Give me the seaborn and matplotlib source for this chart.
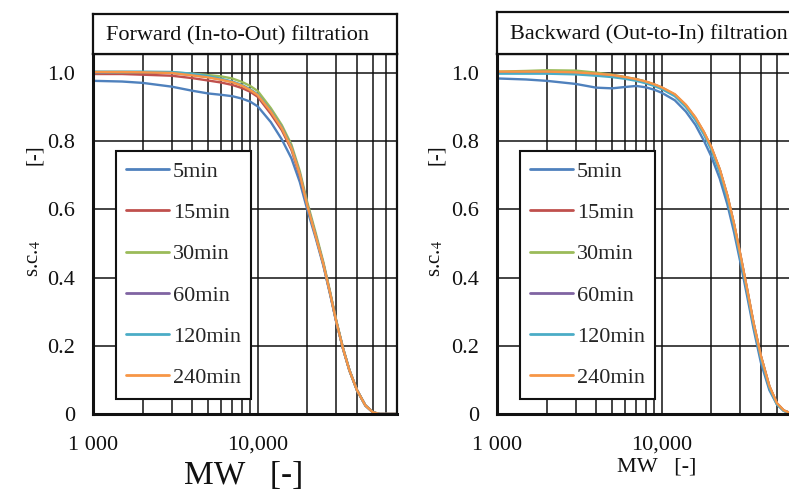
import matplotlib
matplotlib.use("Agg")
import numpy as np
import pandas as pd
import seaborn as sns
import matplotlib.pyplot as plt
from matplotlib.ticker import FixedLocator, NullFormatter

# ---------------- data ----------------
times = ["5min", "15min", "30min", "60min", "120min", "240min"]
colors = ["#4F81BD", "#C0504D", "#9BBB59", "#8064A2", "#4BACC6", "#F79646"]

mw = [1000, 1500, 2000, 3000, 4000, 5000, 6000, 7000, 8000, 9000, 10000,
      12000, 14000, 16000, 18000, 20000, 22500, 25000, 27500, 30000,
      33000, 36000, 40000, 45000, 50000, 55000, 60000, 70000]

# Forward (In-to-Out)
fwd_5 = [0.977, 0.975, 0.971, 0.960, 0.948, 0.940, 0.936, 0.932, 0.925, 0.916, 0.902,
         0.856, 0.805, 0.750, 0.680, 0.598, 0.515, 0.435, 0.350, 0.268,
         0.190, 0.128, 0.070, 0.025, 0.005, 0.0, 0.0, 0.0]
fwd_15 = [0.997, 0.997, 0.995, 0.992, 0.985, 0.978, 0.972, 0.965, 0.956, 0.945, 0.930,
          0.880, 0.832, 0.775, 0.698, 0.610, 0.522, 0.440, 0.354, 0.270,
          0.190, 0.128, 0.070, 0.025, 0.005, 0.0, 0.0, 0.0]
fwd_30 = [1.000, 1.001, 1.002, 1.002, 0.998, 0.994, 0.990, 0.984, 0.974, 0.962, 0.947,
          0.897, 0.847, 0.790, 0.712, 0.620, 0.530, 0.446, 0.358, 0.273,
          0.192, 0.129, 0.070, 0.025, 0.005, 0.0, 0.0, 0.0]
fwd_60 = [1.001, 1.002, 1.002, 1.000, 0.994, 0.988, 0.981, 0.974, 0.964, 0.951, 0.936,
          0.888, 0.840, 0.782, 0.704, 0.612, 0.522, 0.440, 0.354, 0.270,
          0.190, 0.128, 0.070, 0.025, 0.005, 0.0, 0.0, 0.0]
fwd_120 = [1.004, 1.004, 1.004, 1.003, 0.998, 0.991, 0.983, 0.975, 0.965, 0.952, 0.937,
           0.889, 0.840, 0.782, 0.704, 0.612, 0.522, 0.440, 0.354, 0.270,
           0.190, 0.128, 0.070, 0.025, 0.005, 0.0, 0.0, 0.0]
fwd_240 = [1.003, 1.003, 1.002, 1.000, 0.993, 0.987, 0.980, 0.973, 0.963, 0.950, 0.935,
           0.887, 0.838, 0.780, 0.703, 0.611, 0.521, 0.440, 0.354, 0.270,
           0.190, 0.128, 0.070, 0.025, 0.005, 0.0, 0.0, 0.0]

# Backward (Out-to-In)
bwd_5 = [0.984, 0.981, 0.977, 0.968, 0.957, 0.955, 0.959, 0.962, 0.958, 0.951, 0.942,
         0.920, 0.887, 0.848, 0.802, 0.755, 0.690, 0.615, 0.532, 0.445,
         0.345, 0.252, 0.150, 0.070, 0.028, 0.010, 0.003, 0.0]
bwd_15 = [1.002, 1.002, 1.002, 1.000, 0.996, 0.992, 0.986, 0.980, 0.973, 0.965, 0.956,
          0.935, 0.904, 0.867, 0.825, 0.780, 0.715, 0.639, 0.554, 0.465,
          0.363, 0.267, 0.168, 0.080, 0.031, 0.010, 0.003, 0.0]
bwd_30 = [1.004, 1.006, 1.008, 1.007, 1.001, 0.995, 0.988, 0.982, 0.975, 0.966, 0.957,
          0.936, 0.905, 0.868, 0.826, 0.781, 0.716, 0.640, 0.555, 0.466,
          0.364, 0.268, 0.169, 0.081, 0.031, 0.010, 0.003, 0.0]
bwd_60 = [1.002, 1.003, 1.003, 1.001, 0.997, 0.993, 0.987, 0.981, 0.974, 0.966, 0.957,
          0.936, 0.905, 0.868, 0.826, 0.781, 0.716, 0.640, 0.555, 0.466,
          0.364, 0.268, 0.169, 0.081, 0.031, 0.010, 0.003, 0.0]
bwd_120 = [0.998, 0.998, 0.998, 0.996, 0.992, 0.988, 0.983, 0.977, 0.970, 0.962, 0.953,
           0.932, 0.900, 0.862, 0.820, 0.774, 0.708, 0.632, 0.548, 0.458,
           0.358, 0.262, 0.162, 0.076, 0.028, 0.009, 0.002, 0.0]
bwd_240 = [1.004, 1.004, 1.004, 1.002, 0.998, 0.994, 0.988, 0.982, 0.975, 0.967, 0.958,
           0.938, 0.907, 0.870, 0.828, 0.783, 0.718, 0.642, 0.557, 0.468,
           0.366, 0.270, 0.170, 0.082, 0.032, 0.011, 0.003, 0.0]

x_ticks = [1000, 10000]
x_tick_labels = ["1 000", "10,000"]
x_minor = [2000, 3000, 4000, 5000, 6000, 7000, 8000, 9000,
           20000, 30000, 40000, 50000, 60000, 70000]
y_ticks = [0, 0.2, 0.4, 0.6, 0.8, 1.0]
y_tick_labels = ["0", "0.2", "0.4", "0.6", "0.8", "1.0"]

titles = ["Forward (In-to-Out) filtration", "Backward (Out-to-In) filtration"]

# ---------------- style ----------------
sns.set_style("white")
plt.rcParams["font.family"] = ["Liberation Serif", "DejaVu Serif"]
plt.rcParams["mathtext.fontset"] = "stix"

W, H = 789, 493
fig = plt.figure(figsize=(W / 100, H / 100), dpi=100)


def fx(px):
    return px / W


def fy(py):
    return 1 - py / H


def make_long(series):
    frames = []
    for t, vals in zip(times, series):
        frames.append(pd.DataFrame({"MW": mw, "sc": vals, "time": t}))
    return pd.concat(frames, ignore_index=True)


panels = [
    dict(series=[fwd_5, fwd_15, fwd_30, fwd_60, fwd_120, fwd_240], x0=93,
         title_x=238, title_top=14, ylab_x=34, xlab=(244, 476, 24)),
    dict(series=[bwd_5, bwd_15, bwd_30, bwd_60, bwd_120, bwd_240], x0=497,
         title_x=649, title_top=12, ylab_x=436, xlab=(657, 467, 16)),
]

axw = 304
top_plot, bottom_plot = 54, 414

for i, p in enumerate(panels):
    x0 = p["x0"]
    ax = fig.add_axes([fx(x0), fy(bottom_plot), axw / W, (bottom_plot - top_plot) / H])
    ax.set_xscale("log")
    df = make_long(p["series"])
    sns.lineplot(data=df, x="MW", y="sc", hue="time", hue_order=times,
                 palette=colors, ax=ax, linewidth=1.7, estimator=None,
                 sort=False, legend=True)
    ax.set_xlim(1000, 70000)
    ax.set_ylim(0, 1.0557)
    ax.xaxis.set_major_locator(FixedLocator(x_ticks))
    ax.set_xticklabels(x_tick_labels)
    ax.xaxis.set_minor_locator(FixedLocator(x_minor))
    ax.xaxis.set_minor_formatter(NullFormatter())
    ax.set_yticks(y_ticks)
    ax.set_yticklabels(y_tick_labels)
    ax.set_axisbelow(True)
    ax.grid(True, which="both", axis="x", color="#111111", linewidth=1.1)
    ax.grid(True, which="major", axis="y", color="#111111", linewidth=1.1)
    ax.tick_params(axis="both", which="major", direction="in", length=4,
                   width=2, labelsize=16, colors="#111111")
    ax.tick_params(axis="y", which="major", pad=13)
    ax.tick_params(axis="x", which="major", pad=15.5)
    ax.tick_params(axis="both", which="minor", length=0)
    ax.set_xlabel("")
    ax.set_ylabel("")
    for side, sp in ax.spines.items():
        sp.set_visible(True)
        sp.set_color("#111111")
        sp.set_linewidth(2.2 if side in ("left", "bottom") else 1.6)

    handles, labels = ax.get_legend_handles_labels()
    leg = ax.legend(handles, labels, loc="upper left",
                    bbox_to_anchor=((23) / axw, (bottom_plot - 151) / (bottom_plot - top_plot)),
                    borderaxespad=0, frameon=True, fancybox=False,
                    edgecolor="#111111", framealpha=1, fontsize=16,
                    labelspacing=0.93, handlelength=1.9, handletextpad=0.18,
                    borderpad=0.47)
    leg.get_frame().set_linewidth(1.5)
    for h in leg.get_lines():
        h.set_linewidth(2.0)

    # title box
    tax = fig.add_axes([fx(x0), fy(top_plot), axw / W, (top_plot - p["title_top"]) / H])
    tax.set_xticks([])
    tax.set_yticks([])
    for sp in tax.spines.values():
        sp.set_visible(True)
        sp.set_color("#111111")
        sp.set_linewidth(1.6)
    fig.text(fx(p["title_x"]), fy((top_plot + p["title_top"]) / 2 + 2), titles[i],
             ha="center", va="center", fontsize=16, color="#111111")

    # y label
    fig.text(fx(p["ylab_x"]), fy(258), "s.c.$_4$", rotation=90, ha="center",
             va="center", fontsize=15, color="#111111")
    fig.text(fx(p["ylab_x"]), fy(155), "[-]", rotation=90, ha="center",
             va="center", fontsize=15, color="#111111")

    # x label
    xl_x, xl_y, xl_fs = p["xlab"]
    fig.text(fx(xl_x), fy(xl_y), "MW   [-]", ha="center", va="center",
             fontsize=xl_fs, color="#111111")

fig.savefig("out.png", dpi=100)
